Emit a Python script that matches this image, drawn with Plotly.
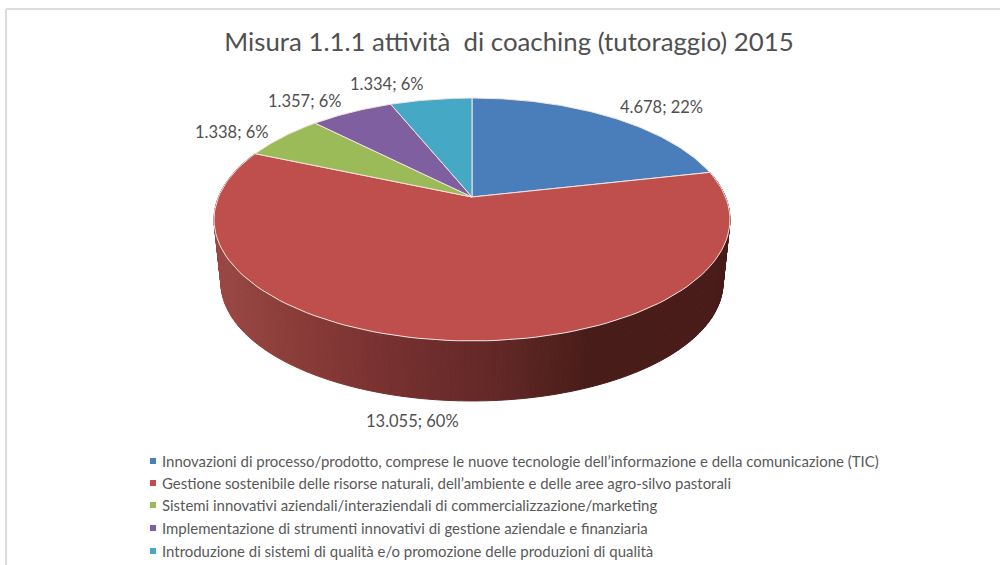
import numpy as np
import plotly.graph_objects as go

TITLE = "Misura 1.1.1 attività\u00a0 di coaching (tutoraggio) 2015"
categories = [
    "Innovazioni di processo/prodotto, comprese le nuove tecnologie dell’informazione e della comunicazione (TIC)",
    "Gestione sostenibile delle risorse naturali, dell’ambiente e delle aree agro-silvo pastorali",
    "Sistemi innovativi aziendali/interaziendali di commercializzazione/marketing",
    "Implementazione di strumenti innovativi di gestione aziendale e finanziaria",
    "Introduzione di sistemi di qualità e/o promozione delle produzioni di qualità",
]
values = [4678, 13055, 1338, 1357, 1334]
percents = [22, 60, 6, 6, 6]
colors = ["#4A7EBB", "#BE4F4D", "#9BBB59", "#7F5F9F", "#45A8C4"]
label_x = [661, 412, 232, 305, 387]
label_y = [107, 421, 132, 101, 84]
legend_y = [461, 483, 505, 528, 551]

# perspective projection of the pie disc onto the page
CX, CY = 472.0, 197.0
B, A, C = 253.5, 117.3, 0.185
ELL_CY = 219.5
WALL_K, WALL_D = 0.973, 63.3

wall_x = [215, 300, 400, 500, 590, 730]
wall_r = [0x9C, 0x8A, 0x75, 0x62, 0x48, 0x4A]
wall_g = [0x4A, 0x3C, 0x30, 0x28, 0x1C, 0x1D]
wall_b = [0x47, 0x38, 0x2F, 0x26, 0x19, 0x1A]


def rim(theta):
    X, Y = np.sin(theta), np.cos(theta)
    d = 1 + C * Y
    return CX + B * X / d, CY - A * Y / d


def lower(x, y):
    return CX + (x - CX) * WALL_K, ELL_CY + (y - ELL_CY) * WALL_K + WALL_D


total = sum(values)
edges = 2 * np.pi * np.cumsum([0] + values) / total

fig = go.Figure()

# side wall of the large slice
angles = np.linspace(edges[1], edges[2], 241)
for a0, a1 in zip(angles[:-1], angles[1:]):
    tx, ty = rim(np.array([a0, a1]))
    bx, by = lower(tx, ty)
    xm = (bx[0] + bx[1]) / 2
    col = "rgb(%d,%d,%d)" % (np.interp(xm, wall_x, wall_r), np.interp(xm, wall_x, wall_g), np.interp(xm, wall_x, wall_b))
    fig.add_trace(go.Scatter(
        x=[tx[0], tx[1], bx[1], bx[0], tx[0]], y=[ty[0], ty[1], by[1], by[0], ty[0]],
        mode="lines", fill="toself", fillcolor=col, line=dict(color=col, width=1),
        hoverinfo="skip", showlegend=False))

# top faces
for i, name in enumerate(categories):
    th = np.linspace(edges[i], edges[i + 1], 120)
    rx, ry = rim(th)
    fig.add_trace(go.Scatter(
        x=np.r_[CX, rx, CX], y=np.r_[CY, ry, CY],
        mode="lines", fill="toself", fillcolor=colors[i],
        line=dict(color="#F3E4E0", width=1), name=name, showlegend=False, hoverinfo="name"))

# legend entries
for i, name in enumerate(categories):
    fig.add_trace(go.Scatter(
        x=[153], y=[legend_y[i]], mode="markers",
        marker=dict(symbol="square", size=6, color=colors[i]),
        showlegend=False, hoverinfo="skip"))
    fig.add_annotation(x=161, y=legend_y[i], text=name, showarrow=False,
                       xanchor="left", yanchor="middle", xshift=-1,
                       font=dict(family="Lato", size=14.95, color="#595959"))

# data labels
for i, v in enumerate(values):
    txt = f"{v:,}".replace(",", ".") + f"; {percents[i]}%"
    fig.add_annotation(x=label_x[i], y=label_y[i], text=txt, showarrow=False,
                       xanchor="center", yanchor="middle",
                       font=dict(family="Lato", size=16.5, color="#505050"))

fig.add_shape(type="line", x0=6, x1=1000, y0=9, y1=9, line=dict(color="#DCDCDC", width=2))
fig.add_shape(type="line", x0=6, x1=6, y0=9, y1=565, line=dict(color="#DCDCDC", width=2))

fig.update_layout(
    width=1000, height=565, autosize=False,
    margin=dict(l=0, r=0, t=0, b=0),
    paper_bgcolor="white", plot_bgcolor="white", showlegend=False,
    title=dict(text=TITLE, x=0.509, y=1 - 41.5 / 565, xanchor="center", yanchor="middle",
               font=dict(family="Lato", size=25.8, color="#505050")),
    xaxis=dict(range=[0, 1000], visible=False, fixedrange=True),
    yaxis=dict(range=[565, 0], visible=False, fixedrange=True),
)

fig.write_html("out.html", config={"displayModeBar": False},
               post_script="document.body.style.margin='0';document.body.style.overflow='hidden';")
